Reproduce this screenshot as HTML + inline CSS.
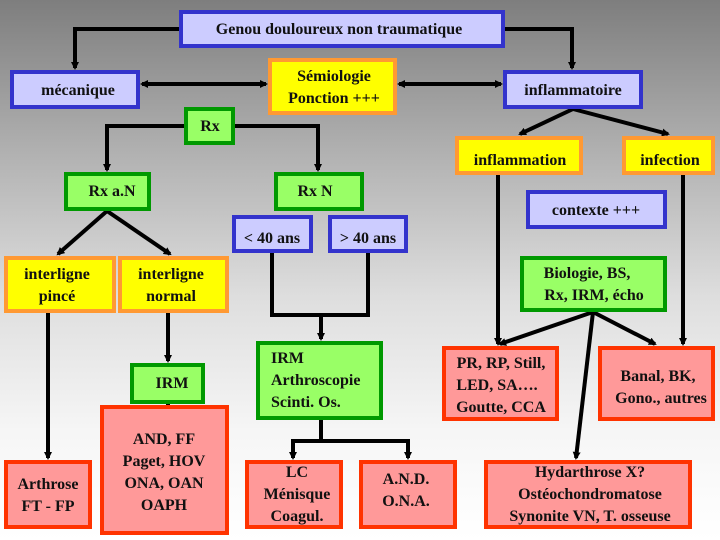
<!DOCTYPE html>
<html><head><meta charset="utf-8"><style>
html{margin:0;padding:0;width:720px;height:540px;background:#fff linear-gradient(#7e7e7e 0%,#b4b4b4 30%,#dedede 55%,#f6f6f6 80%,#ffffff 100%) no-repeat;background-size:720px 540px;}
body{margin:0;padding:0;width:720px;height:540px;overflow:hidden;background:transparent;}
svg{display:block;}
svg text{font-family:"Liberation Serif",serif;font-weight:bold;font-size:16px;fill:#111;}
</style></head><body>
<svg width="720" height="540" xmlns="http://www.w3.org/2000/svg">
<defs>
<marker id="a" markerWidth="8" markerHeight="8" refX="6" refY="4" orient="auto" markerUnits="userSpaceOnUse"><path d="M0,0 L8,4 L0,8 z" fill="#000"/></marker>
<marker id="b" markerWidth="8" markerHeight="8" refX="2" refY="4" orient="auto" markerUnits="userSpaceOnUse"><path d="M8,0 L0,4 L8,8 z" fill="#000"/></marker>
</defs>
<g stroke="#000" stroke-width="4" fill="none">
<polyline points="179,29 75,29 75,68" marker-end="url(#a)"/>
<polyline points="505,29 572,29 572,68" marker-end="url(#a)"/>
<line x1="142" y1="84" x2="266" y2="84" marker-start="url(#b)" marker-end="url(#a)"/>
<line x1="399" y1="84" x2="501" y2="84" marker-start="url(#b)" marker-end="url(#a)"/>
<polyline points="184,126 107,126 107,170" marker-end="url(#a)"/>
<polyline points="235,126 318,126 318,170" marker-end="url(#a)"/>
<line x1="107" y1="211" x2="58" y2="254" marker-end="url(#a)"/>
<line x1="107" y1="211" x2="170" y2="254" marker-end="url(#a)"/>
<line x1="573" y1="109" x2="520" y2="134" marker-end="url(#a)"/>
<line x1="573" y1="109" x2="668" y2="134" marker-end="url(#a)"/>
<line x1="498" y1="175" x2="498" y2="344" marker-end="url(#a)"/>
<line x1="683" y1="175" x2="683" y2="344" marker-end="url(#a)"/>
<line x1="593" y1="312" x2="500" y2="344" marker-end="url(#a)"/>
<line x1="593" y1="312" x2="655" y2="344" marker-end="url(#a)"/>
<line x1="593" y1="312" x2="576" y2="458" marker-end="url(#a)"/>
<polyline points="272,253 272,315 368,315 368,253"/>
<line x1="321" y1="315" x2="321" y2="339" marker-end="url(#a)"/>
<line x1="48" y1="313" x2="48" y2="458" marker-end="url(#a)"/>
<line x1="168" y1="313" x2="168" y2="361" marker-end="url(#a)"/>
<line x1="168" y1="404" x2="168" y2="407"/>
<polyline points="321,420 321,441"/>
<polyline points="293,458 293,441 408,441 408,458" />
<line x1="293" y1="445" x2="293" y2="458" marker-end="url(#a)"/>
<line x1="408" y1="445" x2="408" y2="458" marker-end="url(#a)"/>
</g>
<g stroke-width="4">
<g fill="#ccccff" stroke="#3333cc">
<rect x="181" y="12" width="322" height="34"/>
<rect x="12" y="72" width="126" height="35"/>
<rect x="505" y="72" width="136" height="35"/>
<rect x="528" y="192" width="137" height="35"/>
<rect x="234" y="217" width="77" height="34"/>
<rect x="330" y="217" width="76" height="34"/>
</g>
<g fill="#ffff00" stroke="#ff9933">
<rect x="270" y="60" width="125" height="53"/>
<rect x="457" y="138" width="124" height="35"/>
<rect x="624" y="138" width="89" height="35"/>
<rect x="6" y="258" width="108" height="53"/>
<rect x="120" y="258" width="107" height="53"/>
</g>
<g fill="#99ff66" stroke="#009900">
<rect x="186" y="109" width="47" height="34"/>
<rect x="66" y="174" width="83" height="35"/>
<rect x="276" y="174" width="86" height="35"/>
<rect x="522" y="258" width="143" height="52"/>
<rect x="132" y="365" width="71" height="37"/>
<rect x="258" y="343" width="123" height="75"/>
</g>
<g fill="#ff9999" stroke="#ff3300">
<rect x="444" y="348" width="113" height="71"/>
<rect x="600" y="348" width="113" height="71"/>
<rect x="102" y="407" width="125" height="126"/>
<rect x="6" y="462" width="84" height="65"/>
<rect x="247" y="462" width="94" height="65"/>
<rect x="361" y="462" width="94" height="65"/>
<rect x="486" y="462" width="204" height="65"/>
</g>
</g>
<g text-anchor="middle">
<text x="339" y="34">Genou douloureux non traumatique</text>
<text x="78" y="95">mécanique</text>
<text x="334" y="81">Sémiologie</text>
<text x="334" y="103">Ponction +++</text>
<text x="573" y="95">inflammatoire</text>
<text x="210" y="131">Rx</text>
<text x="520" y="165">inflammation</text>
<text x="670" y="165">infection</text>
<text x="112" y="196">Rx a.N</text>
<text x="315" y="196">Rx N</text>
<text x="596" y="215">contexte +++</text>
<text x="272" y="243">&lt; 40 ans</text>
<text x="368" y="243">&gt; 40 ans</text>
<text x="57" y="279">interligne</text>
<text x="57" y="301">pincé</text>
<text x="171" y="279">interligne</text>
<text x="171" y="301">normal</text>
<text x="587" y="278">Biologie, BS,</text>
<text x="594" y="300">Rx, IRM, écho</text>
<text x="172" y="388">IRM</text>
<text x="501" y="368">PR, RP, Still,</text>
<text x="497" y="390">LED, SA….</text>
<text x="501" y="412">Goutte, CCA</text>
<text x="658" y="381">Banal, BK,</text>
<text x="661" y="403">Gono., autres</text>
<text x="164" y="444">AND, FF</text>
<text x="164" y="466">Paget, HOV</text>
<text x="164" y="488">ONA, OAN</text>
<text x="164" y="510">OAPH</text>
<text x="48" y="489">Arthrose</text>
<text x="48" y="511">FT - FP</text>
<text x="297" y="477">LC</text>
<text x="297" y="499">Ménisque</text>
<text x="297" y="521">Coagul.</text>
<text x="406" y="484">A.N.D.</text>
<text x="406" y="506">O.N.A.</text>
<text x="590" y="477">Hydarthrose X?</text>
<text x="590" y="499">Ostéochondromatose</text>
<text x="590" y="521">Synonite VN, T. osseuse</text>
</g>
<g>
<text x="271" y="363">IRM</text>
<text x="271" y="385">Arthroscopie</text>
<text x="271" y="407">Scinti. Os.</text>
</g>
</svg>
</body></html>
